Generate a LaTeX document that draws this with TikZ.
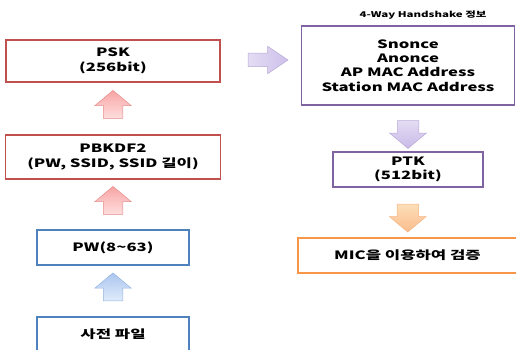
\documentclass[tikz,border=0pt]{standalone}
\usepackage{fontspec}
\setmainfont{Noto Sans CJK KR}[FakeStretch=1.45]
\usetikzlibrary{shapes.arrows,positioning,calc}

\definecolor{boxred}{RGB}{192,80,77}
\definecolor{boxblue}{RGB}{79,129,189}
\definecolor{boxpurple}{RGB}{128,100,162}
\definecolor{boxorange}{RGB}{247,150,70}

\begin{document}
\begin{tikzpicture}[x=1pt, y=-1pt,
    box/.style={draw, line width=1.8pt, fill=white, align=center, inner sep=0pt,
        font=\bfseries\fontsize{11.5}{14.4}\selectfont},
    blockarr/.style={single arrow, draw, line width=0.5pt, inner xsep=0pt,
        single arrow head indent=0pt},
    uparr/.style={blockarr, rotate=90, minimum height=28pt, inner ysep=9.5pt,
        single arrow head extend=8.5pt, single arrow tip angle=100},
    downarr/.style={blockarr, rotate=-90, minimum height=28pt, inner ysep=10.5pt,
        single arrow head extend=7.5pt, single arrow tip angle=100},
    redarr/.style={draw={rgb,255:red,230;green,140;blue,140},
        top color={rgb,255:red,248;green,165;blue,165}, bottom color={rgb,255:red,255;green,222;blue,222}},
    bluearr/.style={draw={rgb,255:red,150;green,180;blue,225},
        top color={rgb,255:red,170;green,198;blue,238}, bottom color={rgb,255:red,225;green,235;blue,252}},
    purplearr/.style={draw={rgb,255:red,185;green,170;blue,215},
        top color={rgb,255:red,228;green,220;blue,243}, bottom color={rgb,255:red,200;green,186;blue,232}},
    orangearr/.style={draw={rgb,255:red,245;green,180;blue,130},
        top color={rgb,255:red,253;green,222;blue,185}, bottom color={rgb,255:red,250;green,188;blue,140}}
]
    \useasboundingbox (0,0) rectangle (516,350);

    % Left column (bottom to top)
    \node[box, draw=boxblue, minimum width=152pt, minimum height=35pt] (dict) at (113,334.5) {사전 파일};
    \node[box, draw=boxblue, minimum width=152pt, minimum height=35pt] (pw) at (113,247.5) {PW(8\textasciitilde 63)};
    \node[box, draw=boxred, minimum width=215pt, minimum height=44pt] (pbkdf) at (113,157) {PBKDF2\\(PW, SSID, SSID 길이)};
    \node[box, draw=boxred, minimum width=214pt, minimum height=42pt] (psk) at (113,61) {PSK\\(256bit)};

    % Right column (top to bottom)
    \node[font=\bfseries\fontsize{7.9}{9}\selectfont] (title) at (423,15) {4-Way Handshake 정보};
    \node[box, draw=boxpurple, minimum width=213pt, minimum height=79pt] (hs) at (408,65.5)
        {Snonce\\Anonce\\AP MAC Address\\Station MAC Address};
    \node[box, draw=boxpurple, minimum width=150pt, minimum height=35pt] (ptk) at (408,169.5) {PTK\\(512bit)};
    \node[box, draw=boxorange, minimum width=219pt, minimum height=35pt] (mic) at (407.5,255.5) {MIC을 이용하여 검증};

    % Block arrows
    \node[uparr, bluearr] (a1) at ($(dict.north)!0.5!(pw.south)$) {};
    \node[uparr, redarr] (a2) at ($(pw.north)!0.5!(pbkdf.south)$) {};
    \node[uparr, redarr] (a3) at ($(pbkdf.north)!0.5!(psk.south)$) {};
    \node[blockarr, draw={rgb,255:red,185;green,170;blue,215},
        left color={rgb,255:red,228;green,220;blue,243}, right color={rgb,255:red,205;green,192;blue,235},
        minimum height=40pt, inner ysep=6.5pt, single arrow head extend=7pt,
        single arrow tip angle=68] (a4) at (263,60) {};
    \node[downarr, purplearr] (a5) at ($(hs.south)!0.5!(ptk.north) + (0,1.5)$) {};
    \node[downarr, orangearr] (a6) at ($(ptk.south)!0.5!(mic.north) + (0,1)$) {};
\end{tikzpicture}
\end{document}
